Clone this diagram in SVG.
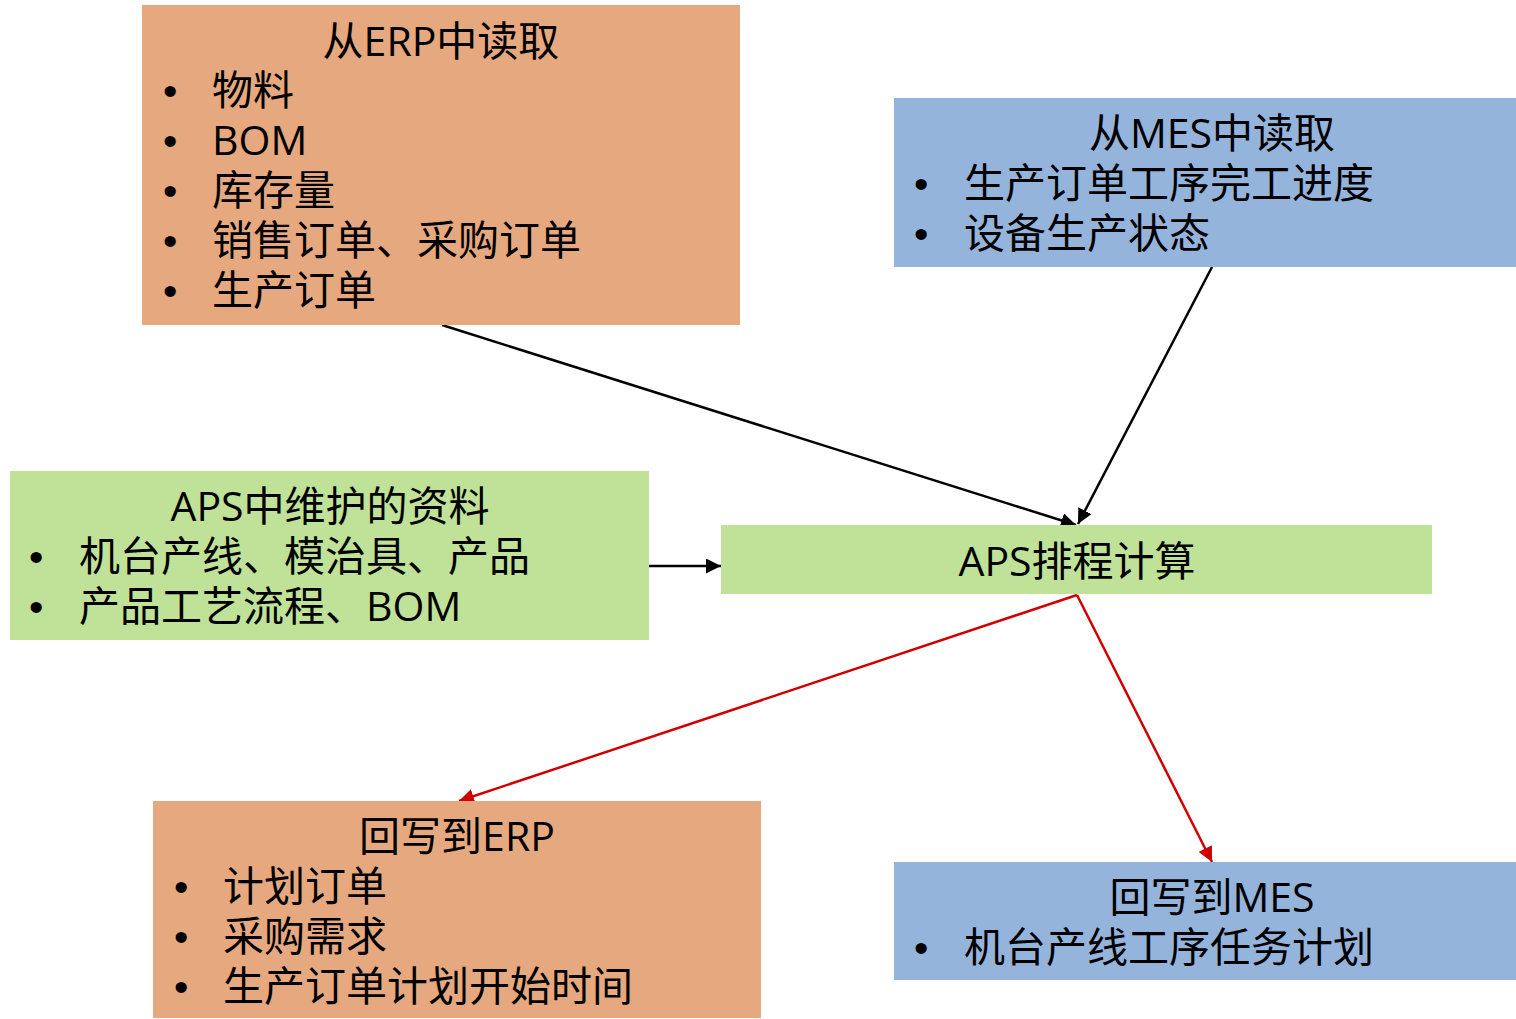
<svg xmlns="http://www.w3.org/2000/svg" width="1516" height="1019" viewBox="0 0 1516 1019">
<style>
text{font-family:"Open Sans","Noto Sans CJK SC",sans-serif;font-size:41px;fill:#000}
.t{text-anchor:middle}
.b{font-family:"Liberation Sans",sans-serif}
.erp{fill:#E6A87E}
.mes{fill:#95B4DB}
.aps{fill:#BFE198}
.k{stroke:#000;stroke-width:2.5;fill:none}
.r{stroke:#D00000;stroke-width:2.5;fill:none}
</style>
<defs>
<marker id="ak" viewBox="0 0 10 10" refX="10" refY="5" markerWidth="6" markerHeight="6" markerUnits="strokeWidth" orient="auto"><path d="M0,0L10,5L0,10z" fill="#000"/></marker>
<marker id="ar" viewBox="0 0 10 10" refX="10" refY="5" markerWidth="6" markerHeight="6" markerUnits="strokeWidth" orient="auto"><path d="M0,0L10,5L0,10z" fill="#D00000"/></marker>
</defs>
<rect width="1516" height="1019" fill="#fff"/>
<g id="connectors">
<line class="k" x1="442" y1="325" x2="1076" y2="525" marker-end="url(#ak)"/>
<line class="k" x1="1212" y1="267" x2="1078" y2="524" marker-end="url(#ak)"/>
<line class="k" x1="649" y1="566" x2="721" y2="566" marker-end="url(#ak)"/>
<line class="r" x1="1077" y1="595" x2="459" y2="801" marker-end="url(#ar)"/>
<line class="r" x1="1077" y1="595" x2="1212" y2="862" marker-end="url(#ar)"/>
</g>
<g id="erp-read">
<rect class="erp" x="142" y="5" width="598" height="320"/>
<text class="t" x="441" y="56">从ERP中读取</text>
<text y="105"><tspan class="b" x="163">•</tspan><tspan x="212">物料</tspan></text>
<text y="155"><tspan class="b" x="163">•</tspan><tspan x="212">BOM</tspan></text>
<text y="205"><tspan class="b" x="163">•</tspan><tspan x="212">库存量</tspan></text>
<text y="255"><tspan class="b" x="163">•</tspan><tspan x="212">销售订单、采购订单</tspan></text>
<text y="305"><tspan class="b" x="163">•</tspan><tspan x="212">生产订单</tspan></text>
</g>
<g id="mes-read">
<rect class="mes" x="894" y="98" width="622" height="169"/>
<text class="t" x="1212" y="148">从MES中读取</text>
<text y="198"><tspan class="b" x="914">•</tspan><tspan x="964">生产订单工序完工进度</tspan></text>
<text y="248"><tspan class="b" x="914">•</tspan><tspan x="964">设备生产状态</tspan></text>
</g>
<g id="aps-data">
<rect class="aps" x="10" y="471" width="639" height="169"/>
<text class="t" x="330" y="521">APS中维护的资料</text>
<text y="571"><tspan class="b" x="29">•</tspan><tspan x="79">机台产线、模治具、产品</tspan></text>
<text y="621"><tspan class="b" x="29">•</tspan><tspan x="79">产品工艺流程、BOM</tspan></text>
</g>
<g id="aps-calc">
<rect class="aps" x="721" y="525" width="711" height="69"/>
<text class="t" x="1077" y="576">APS排程计算</text>
</g>
<g id="erp-write">
<rect class="erp" x="153" y="801" width="608" height="217"/>
<text class="t" x="457" y="851">回写到ERP</text>
<text y="901"><tspan class="b" x="174">•</tspan><tspan x="223">计划订单</tspan></text>
<text y="951"><tspan class="b" x="174">•</tspan><tspan x="223">采购需求</tspan></text>
<text y="1001"><tspan class="b" x="174">•</tspan><tspan x="223">生产订单计划开始时间</tspan></text>
</g>
<g id="mes-write">
<rect class="mes" x="894" y="862" width="622" height="118"/>
<text class="t" x="1212" y="912">回写到MES</text>
<text y="962"><tspan class="b" x="914">•</tspan><tspan x="964">机台产线工序任务计划</tspan></text>
</g>
</svg>
